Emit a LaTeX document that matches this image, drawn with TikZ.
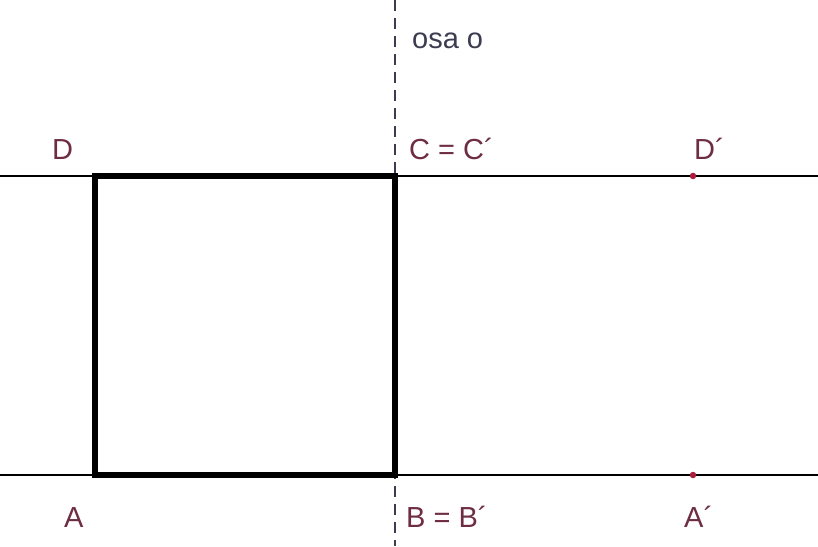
\documentclass[tikz,border=0pt]{standalone}
\usepackage{fontspec}
\setmainfont{Liberation Sans}
\definecolor{lbl}{RGB}{110,45,65}
\definecolor{axis}{RGB}{60,60,80}
\definecolor{pt}{RGB}{170,30,60}
\begin{document}
\begin{tikzpicture}[x=1pt,y=-1pt,
  thin line/.style={line width=1.5pt,black},
  side/.style={line width=5.5pt,black},
  axisline/.style={line width=1.3pt,axis,dash pattern=on 11pt off 7pt},
  lab/.style={text=lbl,font=\fontsize{29}{32}\selectfont,inner sep=0pt,anchor=base west},
  dot/.style={circle,fill=pt,inner sep=0pt,minimum size=6.5pt}]
\useasboundingbox (0,0) rectangle (818,546);
\fill[white] (0,0) rectangle (818,546);
\coordinate (L1) at (0,176);
\coordinate (R1) at (818,176);
\coordinate (L2) at (0,475);
\coordinate (R2) at (818,475);
\coordinate (Otop) at (395,0);
\coordinate (Obot) at (395,546);
\coordinate (A) at (95,475);
\coordinate (B) at (395,475);
\coordinate (C) at (395,176);
\coordinate (D) at (95,176);
\draw[thin line] (L1) -- (R1);
\draw[thin line] (L2) -- (R2);
\draw[axisline] (Otop) -- (Obot);
\draw[side,line join=miter] (A) -- (B) -- (C) -- (D) -- cycle;
\node[dot] (Dp) at (693,176) {};
\node[dot] (Ap) at (693,475) {};
\node[lab,text=axis] (osa) at (412,48) {osa o};
\node[lab] (lD) at (52,159) {D};
\node[lab] (lC) at (409,159) {C = C´};
\node[lab] (lDp) at (694,159) {D´};
\node[lab] (lA) at (64,527) {A};
\node[lab] (lB) at (406,527) {B = B´};
\node[lab] (lAp) at (684,527) {A´};
\end{tikzpicture}
\end{document}
